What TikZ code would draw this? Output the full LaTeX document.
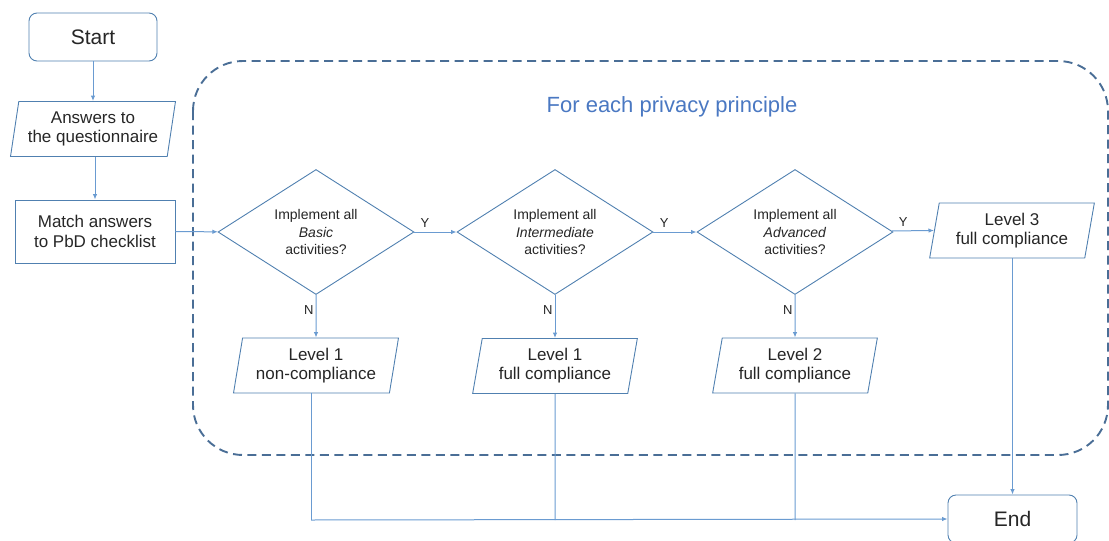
\documentclass[tikz,border=0pt]{standalone}
\usepackage{fontspec}
\setmainfont{Liberation Sans}
\usetikzlibrary{shapes.geometric,arrows.meta}
\definecolor{edgec}{HTML}{6A9BD1}
\definecolor{bordc}{HTML}{5080B0}
\definecolor{dashc}{HTML}{4A6E96}
\definecolor{txtc}{HTML}{262626}
\definecolor{titlec}{HTML}{4A78C2}
\begin{document}
\begin{tikzpicture}[x=1pt,y=-1pt,
  every node/.style={text=txtc},
  term/.style={draw=bordc, line width=0.9pt, rounded corners=8pt, minimum width=128pt, minimum height=48pt, font=\fontsize{21}{24}\selectfont},
  procbox/.style={draw=bordc, line width=0.9pt, minimum width=160pt, minimum height=63pt, align=center, font=\fontsize{17}{20}\selectfont},
  para/.style={draw=bordc, line width=0.9pt, trapezium, trapezium left angle=78, trapezium right angle=102, trapezium stretches=true, minimum width=165pt, minimum height=55pt, inner sep=0pt, align=center, font=\fontsize{17}{19}\selectfont},
  decis/.style={draw=bordc, line width=0.9pt, diamond, aspect=1.57, minimum width=196pt, minimum height=125pt, inner sep=0pt, align=center, font=\fontsize{14}{17.5}\selectfont},
  conn/.style={draw=edgec, line width=1pt, -{Latex[length=5.5pt,width=4.5pt]}},
  plain/.style={draw=edgec, line width=1pt},
  lab/.style={font=\fontsize{13}{15}\selectfont, inner sep=0pt},
  region/.style={draw=dashc, line width=1.9pt, dash pattern=on 9pt off 5.5pt, rounded corners=50pt}
]
\useasboundingbox (0,0) rectangle (1109,541);

% dashed region
\draw[region] (193,61) rectangle (1108,455);
\node[text=titlec, font=\fontsize{22}{26}\selectfont] (title) at (672,107) {For each privacy principle};

% nodes
\node[term] (start) at (93,37) {Start};
\node[para] (ans) at (93,129) {Answers to\\the questionnaire};
\node[procbox] (match) at (95,231.5) {Match answers\\to PbD checklist};
\node[decis] (d1) at (316,232) {Implement all\\\textit{Basic}\\activities?};
\node[decis] (d2) at (555,232) {Implement all\\\textit{Intermediate}\\activities?};
\node[decis] (d3) at (795,232) {Implement all\\\textit{Advanced}\\activities?};
\node[para] (l3) at (1012,230.5) {Level 3\\full compliance};
\node[para] (l1n) at (316,365.5) {Level 1\\non-compliance};
\node[para] (l1f) at (555,366) {Level 1\\full compliance};
\node[para] (l2f) at (795,365.5) {Level 2\\full compliance};
\node[term, minimum width=129pt] (end) at (1012.5,519) {End};

% connectors
\draw[conn] (start) -- (ans);
\draw[conn] (ans.south -| match.north) -- (match.north);
\draw[conn] (match) -- (d1);
\draw[conn] (d1) -- node[lab, pos=0.25, above=4pt] {Y} (d2);
\draw[conn] (d2) -- node[lab, pos=0.25, above=4pt] {Y} (d3);
\draw[conn] (d3) -- node[lab, pos=0.27, above=4pt] {Y} (l3.west);
\draw[conn] (d1) -- node[lab, pos=0.35, left=2pt] {N} (l1n);
\draw[conn] (d2) -- node[lab, pos=0.35, left=2pt] {N} (l1f);
\draw[conn] (d3) -- node[lab, pos=0.35, left=2pt] {N} (l2f);

\coordinate (j1) at (311,520);
\coordinate (j2) at (555,520);
\coordinate (j3) at (795,520);
\draw[plain] (l1n.south -| j1) -- (j1);
\draw[plain] (l1f.south) -- (j2);
\draw[plain] (l2f.south) -- (j3);
\draw[conn] (j1) -- (end.west);
\draw[conn] (l3.south -| end.north) -- (end.north);
\end{tikzpicture}
\end{document}
